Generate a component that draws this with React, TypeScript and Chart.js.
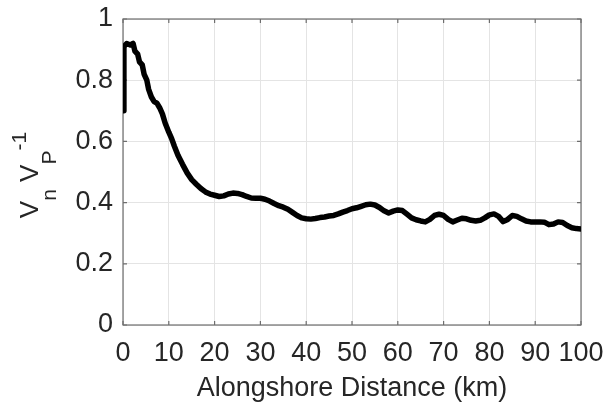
import React, { useEffect, useRef } from "react";
import { Chart, registerables } from "chart.js";

Chart.register(...registerables);

const distanceKm = [
  0, 0.2, 0.8, 1.6, 2.2, 2.6, 3.2, 3.6, 4.2, 4.6, 5.2, 5.6, 6.2, 6.8, 7.4, 8.0, 8.6, 9.2,
  10, 10.6, 11.2, 12, 13, 14, 15, 16, 17, 18, 19, 20, 21, 22, 23, 24, 25, 26, 27, 28, 29,
  30, 31, 32, 33, 34, 35, 36, 37, 38, 39, 40, 41, 42, 43, 44, 45, 46, 47, 48, 49, 50, 51,
  52, 53, 54, 55, 56, 57, 58, 59, 60, 61, 62, 63, 64, 65, 66, 67, 68, 69, 70, 71, 72, 73,
  74, 75, 76, 77, 78, 79, 80, 81, 82, 83, 84, 85, 86, 87, 88, 89, 90, 91, 92, 93, 94, 95,
  96, 97, 98, 99, 100,
];

const velocityRatio = [
  0.70, 0.91, 0.92, 0.915, 0.92, 0.895, 0.885, 0.86, 0.85, 0.82, 0.80, 0.77, 0.745, 0.73,
  0.725, 0.71, 0.69, 0.66, 0.63, 0.61, 0.585, 0.555, 0.525, 0.497, 0.475, 0.46, 0.446,
  0.435, 0.428, 0.424, 0.42, 0.422, 0.428, 0.431, 0.43, 0.426, 0.42, 0.415, 0.414, 0.414,
  0.411, 0.405, 0.397, 0.39, 0.385, 0.378, 0.368, 0.358, 0.35, 0.347, 0.346, 0.348, 0.351,
  0.353, 0.356, 0.358, 0.363, 0.369, 0.374, 0.38, 0.383, 0.388, 0.393, 0.395, 0.392, 0.384,
  0.373, 0.366, 0.372, 0.376, 0.374, 0.362, 0.35, 0.344, 0.34, 0.337, 0.345, 0.358, 0.362,
  0.358, 0.345, 0.337, 0.343, 0.349, 0.347, 0.342, 0.34, 0.342, 0.35, 0.36, 0.363, 0.355,
  0.338, 0.345, 0.358, 0.355, 0.347, 0.34, 0.337, 0.337, 0.337, 0.336, 0.328, 0.33, 0.337,
  0.335, 0.325, 0.318, 0.315, 0.314,
];

const xTitle = "Alongshore Distance (km)";
const FONT = "'Liberation Sans', Arial, Helvetica, sans-serif";
const TEXT = "#262626";

const boxPlugin = {
  id: "matlabBox",
  beforeDatasetsDraw(chart: any) {
    const { ctx, chartArea: a, scales } = chart;
    ctx.save();
    ctx.strokeStyle = "#6e6e6e";
    ctx.lineWidth = 1.2;
    ctx.strokeRect(a.left, a.top, a.right - a.left, a.bottom - a.top);
    ctx.beginPath();
    const tl = 4;
    scales.x.ticks.forEach((t: any) => {
      const px = scales.x.getPixelForValue(t.value);
      ctx.moveTo(px, a.bottom);
      ctx.lineTo(px, a.bottom - tl);
      ctx.moveTo(px, a.top);
      ctx.lineTo(px, a.top + tl);
    });
    scales.y.ticks.forEach((t: any) => {
      const py = scales.y.getPixelForValue(t.value);
      ctx.moveTo(a.left, py);
      ctx.lineTo(a.left + tl, py);
      ctx.moveTo(a.right, py);
      ctx.lineTo(a.right - tl, py);
    });
    ctx.stroke();
    ctx.restore();
  },
  afterDraw(chart: any) {
    const { ctx } = chart;
    const big = 26;
    const small = 21;
    const parts = [
      { t: "V", s: big, dy: 0 },
      { t: "n", s: small, dy: 18 },
      { t: " ", s: big, dy: 0 },
      { t: "V", s: big, dy: 0 },
      { t: "P", s: small, dy: 18 },
      { t: "-1", s: small, dy: -12 },
    ];
    ctx.save();
    ctx.fillStyle = TEXT;
    ctx.textBaseline = "alphabetic";
    ctx.textAlign = "left";
    let total = 0;
    const widths = parts.map((p) => {
      ctx.font = `${p.s}px ${FONT}`;
      const w = ctx.measureText(p.t).width;
      total += w;
      return w;
    });
    ctx.translate(38, 175);
    ctx.rotate(-Math.PI / 2);
    let u = -total / 2;
    parts.forEach((p, i) => {
      ctx.font = `${p.s}px ${FONT}`;
      ctx.fillText(p.t, u, p.dy);
      u += widths[i];
    });
    ctx.restore();
  },
};

export default function App() {
  const ref = useRef<HTMLCanvasElement>(null);
  useEffect(() => {
    if (!ref.current) return;
    const chart = new Chart(ref.current, {
      type: "line",
      data: {
        datasets: [
          {
            data: distanceKm.map((x, i) => ({ x, y: velocityRatio[i] })),
            borderColor: "#000",
            borderWidth: 5.5,
            pointRadius: 0,
            tension: 0,
            borderJoinStyle: "round",
            borderCapStyle: "round",
          },
        ],
      },
      options: {
        responsive: false,
        animation: false,
        layout: { padding: { top: 19, right: 27, left: 0, bottom: 0 } },
        plugins: { legend: { display: false }, tooltip: { enabled: false } },
        scales: {
          x: {
            type: "linear",
            min: 0,
            max: 100,
            ticks: {
              stepSize: 10,
              color: TEXT,
              font: { size: 27, family: FONT },
              padding: 3,
              maxRotation: 0,
              autoSkip: false,
            },
            grid: {
              color: "#e4e4e4",
              drawTicks: true,
              tickLength: 9,
              tickColor: "rgba(0,0,0,0)",
              lineWidth: 1,
            },
            border: { display: false },
            title: {
              display: true,
              text: xTitle,
              color: TEXT,
              font: { size: 27, family: FONT },
              padding: 0,
            },
            afterFit: (s: any) => {
              s.height = 80;
            },
          },
          y: {
            min: 0,
            max: 1,
            ticks: {
              stepSize: 0.2,
              color: TEXT,
              font: { size: 27, family: FONT },
              padding: 2,
              callback: (v: any) => {
                const n = Number(v);
                if (n === 0) return "0";
                if (n === 1) return "1";
                return n.toFixed(1);
              },
            },
            grid: {
              color: "#e4e4e4",
              drawTicks: true,
              tickLength: 8,
              tickColor: "rgba(0,0,0,0)",
              lineWidth: 1,
            },
            border: { display: false },
            afterFit: (s: any) => {
              s.width = 123;
            },
          },
        },
      },
      plugins: [boxPlugin],
    });
    return () => chart.destroy();
  }, []);
  return (
    <div style={{ position: "absolute", left: 0, top: 0, width: 608, height: 405, background: "#fff" }}>
      <canvas ref={ref} width={608} height={405} />
    </div>
  );
}
